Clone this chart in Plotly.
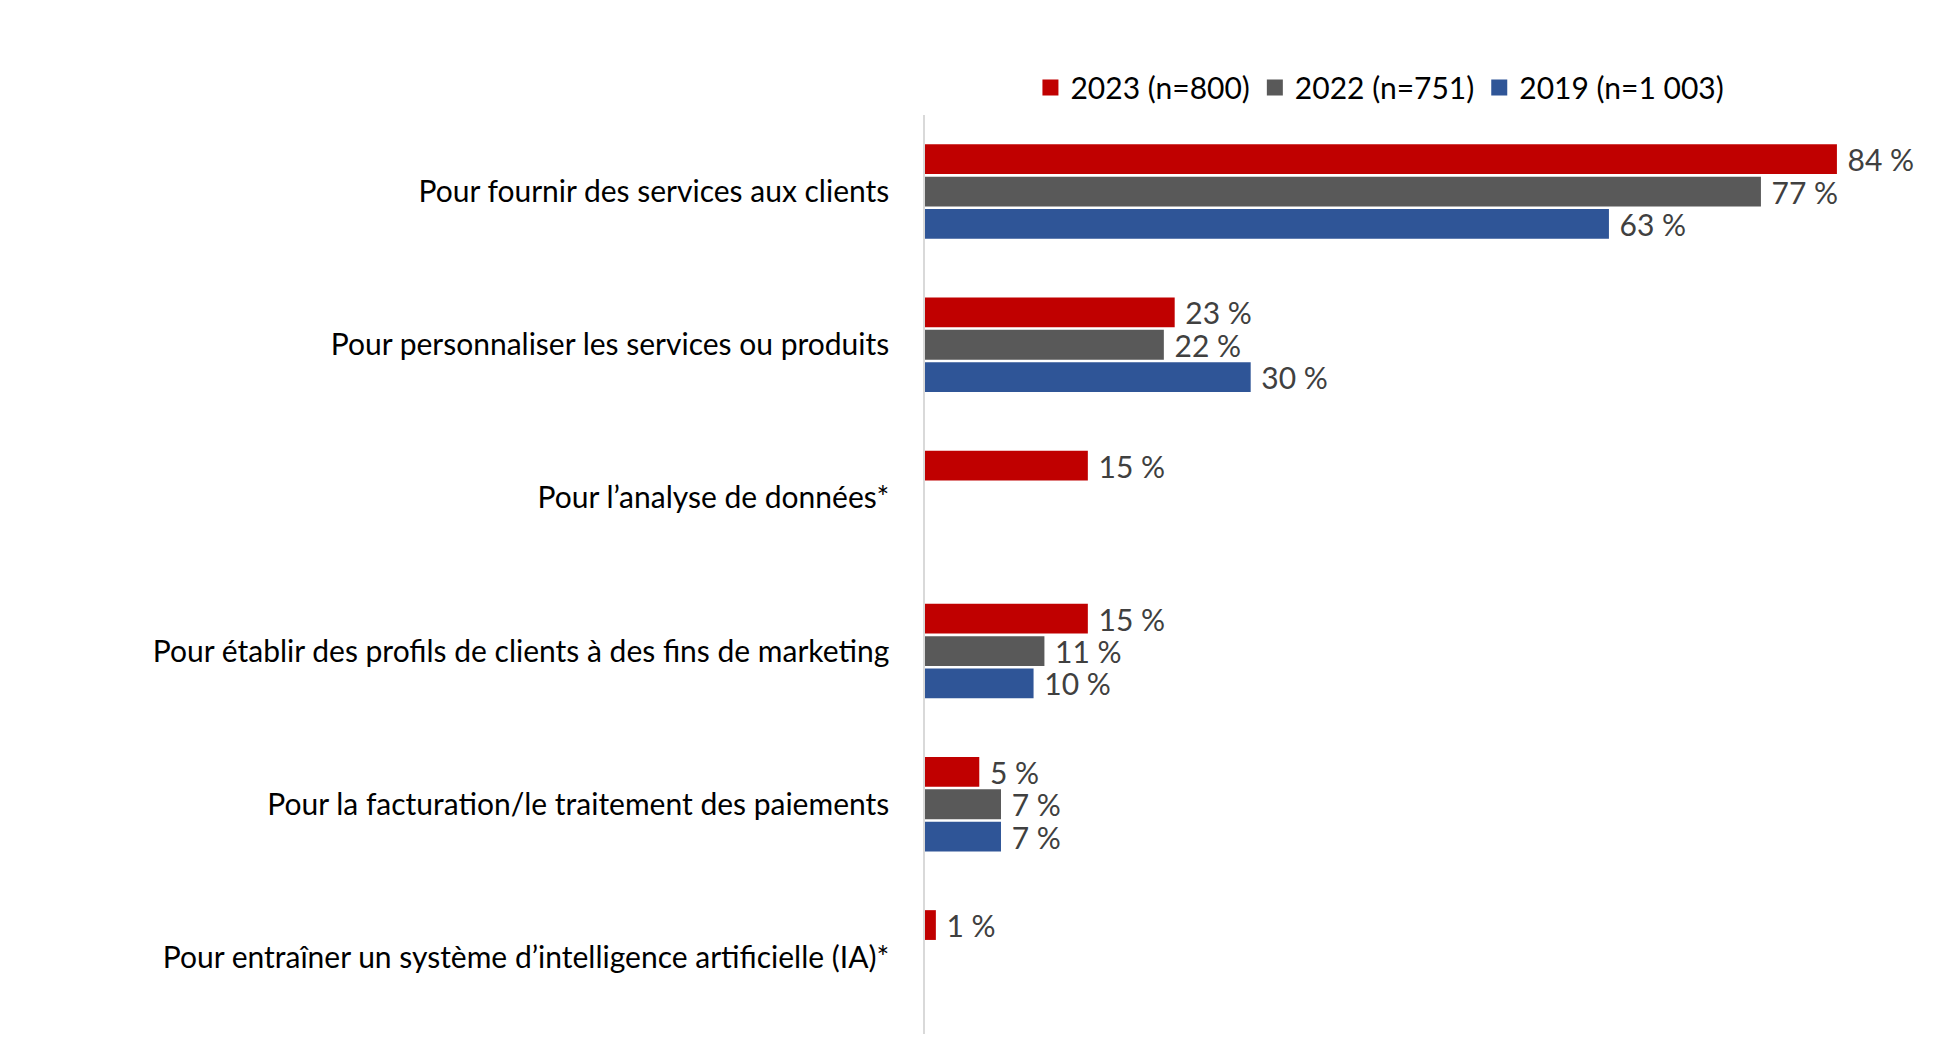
import plotly.graph_objects as go

categories = [
    "Pour fournir des services aux clients",
    "Pour personnaliser les services ou produits",
    "Pour l’analyse de données*",
    "Pour établir des profils de clients à des fins de marketing",
    "Pour la facturation/le traitement des paiements",
    "Pour entraîner un système d’intelligence artificielle (IA)*",
]
series_names = ["2023 (n=800)", "2022 (n=751)", "2019 (n=1 003)"]
v2023 = [84, 23, 15, 15, 5, 1]
v2022 = [77, 22, None, 11, 7, None]
v2019 = [63, 30, None, 10, 7, None]
colors = ["#C00000", "#595959", "#2F5597"]

FONT = "Lato, Carlito, Calibri, sans-serif"

fig = go.Figure()
for name, vals, col in zip(series_names, [v2023, v2022, v2019], colors):
    fig.add_trace(go.Bar(
        y=categories, x=vals, name=name, orientation="h",
        marker=dict(color=col, line=dict(width=0)),
        text=[f"\u00a0{v} %" if v is not None else "" for v in vals],
        textposition="outside", cliponaxis=False, constraintext="none",
        textfont=dict(family=FONT, size=30, color="#404040"),
        showlegend=False, legendgroup=name,
    ))
# legend entries with larger square swatches
for name, col in zip(series_names, colors):
    fig.add_trace(go.Scatter(
        x=[None], y=[None], mode="markers", name=name, legendgroup=name,
        marker=dict(symbol="square", size=18, color=col),
        showlegend=True,
    ))

fig.update_layout(
    width=1944, height=1057,
    margin=dict(l=925, r=30, t=115, b=23),
    paper_bgcolor="white", plot_bgcolor="white",
    barmode="group", bargap=0.366, bargroupgap=0.08,
    font=dict(family=FONT, size=30, color="#000000"),
    legend=dict(orientation="h", x=0.46, xanchor="center", y=1.03, yanchor="middle",
                font=dict(family=FONT, size=30, color="#000000"),
                itemwidth=30, traceorder="normal"),
    showlegend=True,
)
fig.update_xaxes(range=[0, 91.1], visible=False, showgrid=False, zeroline=False)
fig.update_yaxes(autorange="reversed", showline=True, linecolor="#D9D9D9", linewidth=1.5,
                 ticks="outside", ticklen=28, tickcolor="rgba(0,0,0,0)",
                 showgrid=False, tickfont=dict(family=FONT, size=30, color="#000000"))

fig.write_html("out.html")
